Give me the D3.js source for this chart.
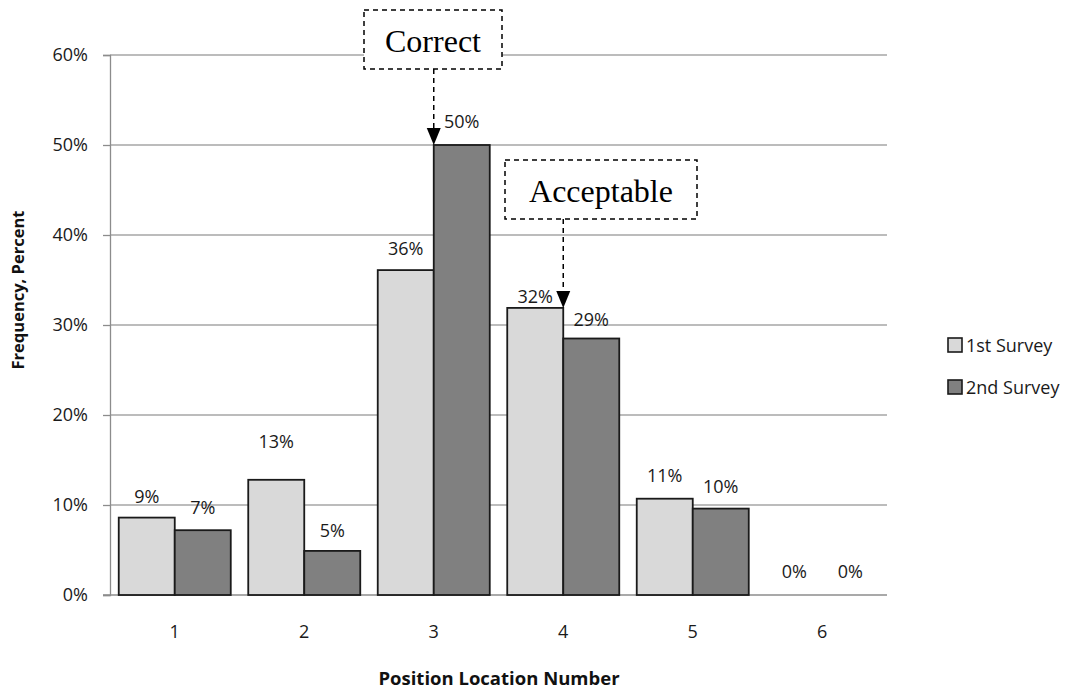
<!DOCTYPE html>
<html><head><meta charset="utf-8">
<script src="https://cdn.jsdelivr.net/npm/d3@7"></script>
<style>body{margin:0;background:#fff}svg{display:block}</style>
</head><body>
<svg id="chart" width="1077" height="690"></svg>
<script>
// ---- data ----
const categories = ["1","2","3","4","5","6"];
const seriesNames = ["1st Survey","2nd Survey"];
const survey1 = [8.6, 12.8, 36.1, 31.9, 10.7, 0];
const survey2 = [7.2, 4.9, 50.0, 28.5, 9.6, 0];
const survey1Labels = ["9%","13%","36%","32%","11%","0%"];
const survey2Labels = ["7%","5%","50%","29%","10%","0%"];
const yTicks = [0,10,20,30,40,50,60];
const annotations = [
  {text:"Correct", category:"3", series:1},
  {text:"Acceptable", category:"4", series:0}
];

// ---- layout ----
const svg = d3.select("#chart");
const mLeft = 110, mRight = 887, mTop = 55, mBottom = 595;
const colors = ["#d9d9d9","#808080"];
const labelFont = "'Open Sans', 'DejaVu Sans', sans-serif";
const labelSize = 18;
// per-label vertical gaps above bars (layout only)
const gap1 = [15, 32, 15, 5, 17, 17];
const gap2 = [16, 14, 17, 13, 16, 17];

const x0 = d3.scaleBand().domain(categories).range([mLeft, mRight]).paddingInner(0.135).paddingOuter(0.0675);
const x1 = d3.scaleBand().domain([0,1]).range([0, x0.bandwidth()]);
const y = d3.scaleLinear().domain([0,60]).range([mBottom, mTop]);

// gridlines
svg.append("g").selectAll("line").data(yTicks.filter(d=>d>0)).join("line")
  .attr("x1", mLeft).attr("x2", mRight)
  .attr("y1", d=>y(d)).attr("y2", d=>y(d))
  .attr("stroke", "#a6a6a6").attr("stroke-width", 1.3);

// y axis
const yAxis = d3.axisLeft(y).tickValues(yTicks).tickFormat(d=>d+"%").tickSize(7).tickPadding(15);
const gy = svg.append("g").attr("transform", `translate(${mLeft},0)`).call(yAxis);
gy.select(".domain").attr("stroke","#8c8c8c").attr("stroke-width",1.3);
gy.selectAll(".tick line").attr("stroke","#8c8c8c").attr("stroke-width",1.3);
gy.selectAll(".tick text").attr("font-family",labelFont).attr("font-size",labelSize).attr("fill","#1a1a1a");

// x axis
const xAxis = d3.axisBottom(x0).tickSize(0).tickPadding(30);
const gx = svg.append("g").attr("transform", `translate(0,${mBottom})`).call(xAxis);
gx.select(".domain").attr("stroke","#8c8c8c").attr("stroke-width",1.3).attr("d", `M${mLeft-7},0H${mRight}`);
gx.selectAll(".tick text").attr("font-family",labelFont).attr("font-size",labelSize).attr("fill","#1a1a1a");

// bars
const series = [survey1, survey2];
const labels = [survey1Labels, survey2Labels];
const gaps = [gap1, gap2];
series.forEach((vals, s) => {
  const g = svg.append("g");
  g.selectAll("rect").data(vals.map((v,i)=>({v, c:categories[i]})).filter(d=>d.v>0)).join("rect")
    .attr("x", d=>x0(d.c)+x1(s))
    .attr("y", d=>y(d.v))
    .attr("width", x1.bandwidth())
    .attr("height", d=>y(0)-y(d.v))
    .attr("fill", colors[s]).attr("stroke","#1a1a1a").attr("stroke-width",1.8);
  g.selectAll("text").data(vals.map((v,i)=>({v, c:categories[i], t:labels[s][i], gap:gaps[s][i]}))).join("text")
    .attr("x", d=>x0(d.c)+x1(s)+x1.bandwidth()/2)
    .attr("y", d=>y(d.v)-d.gap)
    .attr("text-anchor","middle")
    .attr("font-family",labelFont).attr("font-size",labelSize).attr("fill","#1a1a1a")
    .text(d=>d.t);
});

// annotations
const boxes = [
  {x:364, y:10, w:138, h:59},
  {x:505, y:160, w:192, h:59}
];
annotations.forEach((a, i) => {
  const b = boxes[i];
  const s = a.series;
  const vals = series[s];
  const idx = categories.indexOf(a.category);
  const tx = x0(a.category) + x1(1);
  const ty = y(vals[idx]);
  const g = svg.append("g");
  g.append("rect").attr("x",b.x).attr("y",b.y).attr("width",b.w).attr("height",b.h)
    .attr("fill","#fff").attr("stroke","#000").attr("stroke-width",1.5).attr("stroke-dasharray","5,4");
  g.append("text").attr("x",b.x+b.w/2).attr("y",b.y+42)
    .attr("text-anchor","middle").attr("font-family","'Liberation Serif','Times New Roman',serif")
    .attr("font-size",32).attr("fill","#000").text(a.text);
  g.append("line").attr("x1",tx).attr("x2",tx).attr("y1",b.y+b.h).attr("y2",ty-16)
    .attr("stroke","#000").attr("stroke-width",1.5).attr("stroke-dasharray","5,4");
  g.append("path").attr("d",`M${tx-7},${ty-17}L${tx+7},${ty-17}L${tx},${ty}Z`).attr("fill","#000");
});

// legend
const lg = svg.append("g").attr("transform","translate(948,338)");
seriesNames.forEach((n, i) => {
  lg.append("rect").attr("x",0).attr("y",i*42).attr("width",14).attr("height",14)
    .attr("fill",colors[i]).attr("stroke","#1a1a1a").attr("stroke-width",1.6);
  lg.append("text").attr("x",18).attr("y",i*42+14)
    .attr("font-family",labelFont).attr("font-size",labelSize).attr("fill","#1a1a1a").text(n);
});

// axis titles
svg.append("text").attr("transform","translate(24,290) rotate(-90)").attr("text-anchor","middle")
  .attr("font-family",labelFont).attr("font-size",16.5).attr("font-weight","bold").attr("fill","#111")
  .text("Frequency, Percent");
svg.append("text").attr("x",499).attr("y",685).attr("text-anchor","middle")
  .attr("font-family",labelFont).attr("font-size",18.5).attr("font-weight","bold").attr("fill","#111")
  .text("Position Location Number");
</script>
</body></html>
